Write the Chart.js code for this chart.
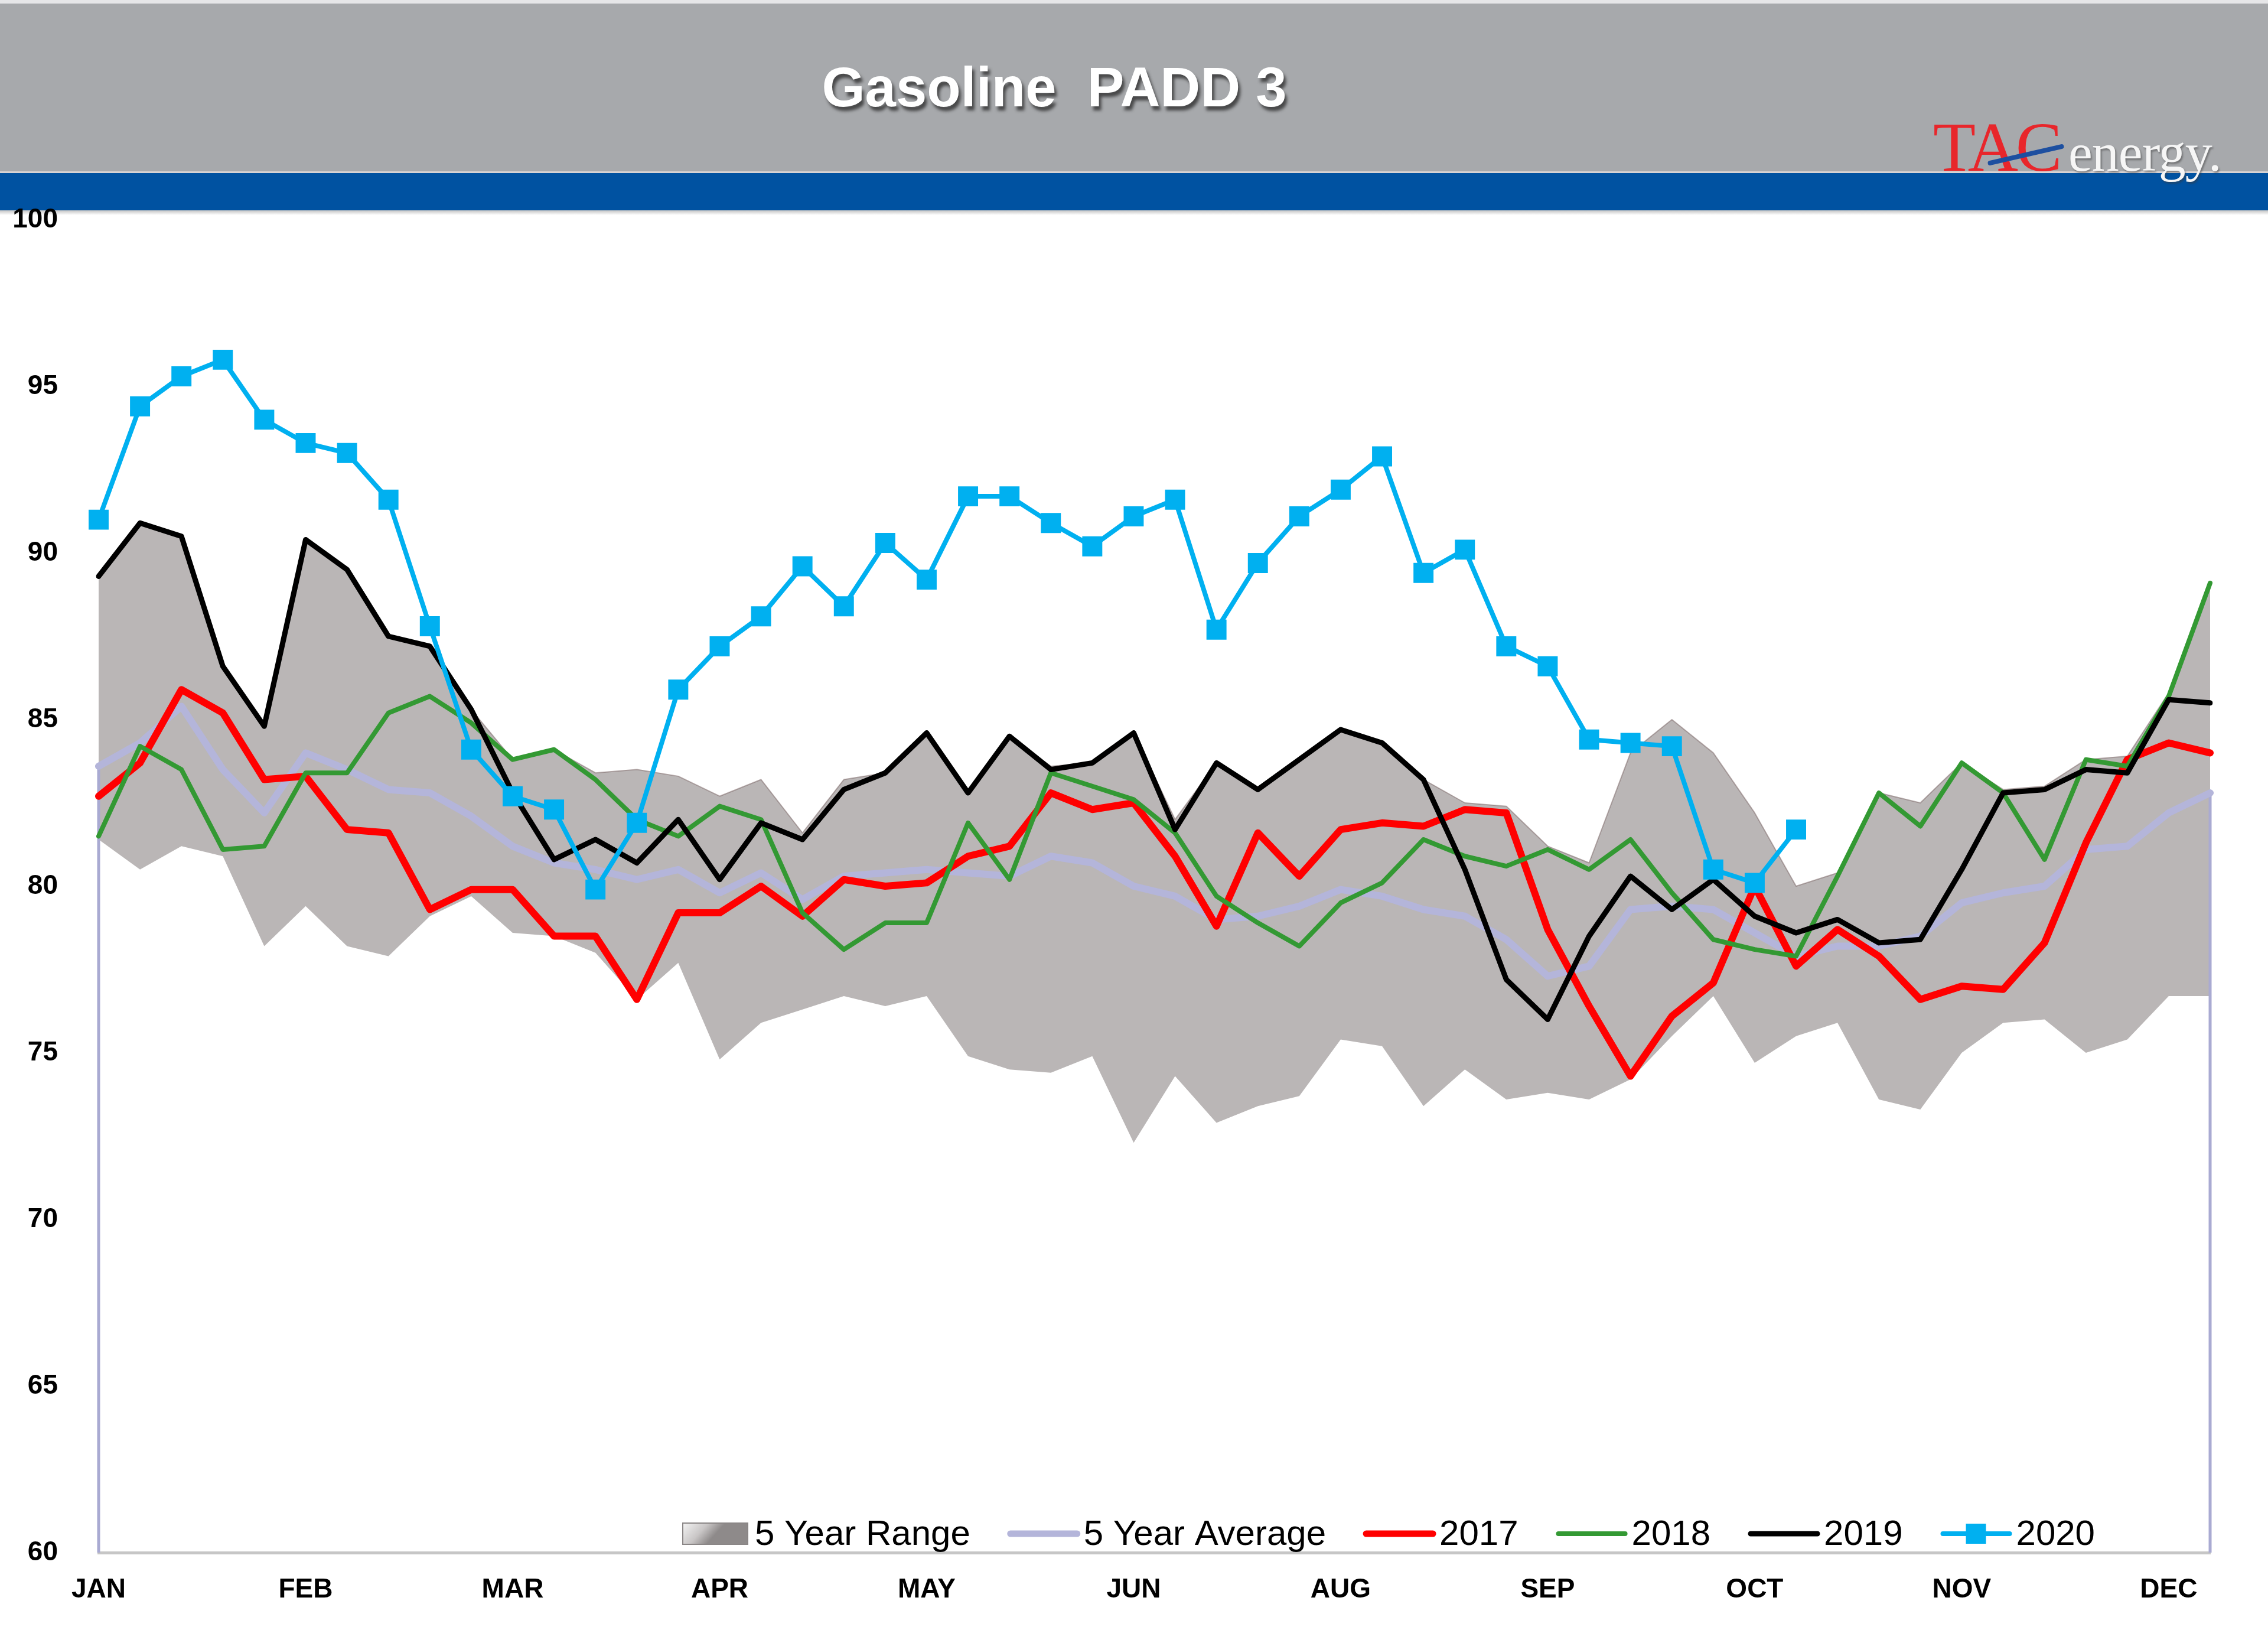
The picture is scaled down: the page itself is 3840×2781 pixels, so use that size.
<!DOCTYPE html>
<html>
<head>
<meta charset="utf-8">
<title>Gasoline PADD 3</title>
<script src="https://cdn.jsdelivr.net/npm/chart.js@4.4.0/dist/chart.umd.min.js"></script>
<style>
  html, body { margin: 0; padding: 0; background: #fff; }
  #wrap { position: relative; width: 3840px; height: 2781px; overflow: hidden; }
  .topline { position: absolute; left: 0; top: 0; width: 3840px; height: 6px; background: #e6e6e8; }
  .band { position: absolute; left: 0; top: 6px; width: 3840px; height: 284px; background: #a7a9ac; }
  .sep { position: absolute; left: 0; top: 290px; width: 3840px; height: 3px; background: #d9d4d4; }
  .bar { position: absolute; left: 0; top: 293px; width: 3840px; height: 63px; background: #0052a1; }
  .shade { position: absolute; left: 0; top: 356px; width: 3840px; height: 8px;
           background: linear-gradient(#c4c4c4, #ffffff); }
  .title { position: absolute; left: 1785px; top: 101px; transform: translateX(-50%);
           font: bold 94px/1 "Liberation Sans", Arial, sans-serif; color: #fff; white-space: pre;
           text-shadow: 4px 7px 5px rgba(40,40,40,0.75); }
  .tac { position: absolute; left: 3273px; top: 191px; font: 118px/1 "Liberation Serif", serif;
         color: #e8262b; letter-spacing: -4px; }
  .energy { position: absolute; left: 3502px; top: 212px; font: 92px/1 "Liberation Serif", serif;
            color: #f6f6f6; letter-spacing: -1px; text-shadow: 2px 3px 3px rgba(60,60,60,0.5); }
  .slash { position: absolute; left: 3364px; top: 258px; width: 132px; height: 8px; background: #1d4fa0;
           border-radius: 4px; transform: rotate(-13deg); }
  canvas { position: absolute; left: 0; top: 0; }
</style>
</head>
<body>
<div id="wrap">
  <div class="topline"></div>
  <div class="band"></div>
  <div class="sep"></div>
  <div class="bar"></div>
  <div class="shade"></div>
  <div class="title">Gasoline  PADD 3</div>
  <div class="tac">TAC</div>
  <div class="slash"></div>
  <div class="energy">energy.</div>
  <canvas id="chart" width="3840" height="2781"></canvas>
</div>
<script>
// weekly categories, month names shown every 5th week
const weeks = [1,2,3,4,5,6,7,8,9,10,11,12,13,14,15,16,17,18,19,20,21,22,23,24,25,26,
               27,28,29,30,31,32,33,34,35,36,37,38,39,40,41,42,43,44,45,46,47,48,49,50,51,52];
const monthTicks = ['JAN','FEB','MAR','APR','MAY','JUN','AUG','SEP','OCT','NOV','DEC'];
const yTicks = [60, 65, 70, 75, 80, 85, 90, 95, 100];

const rangeLow = [81.4,80.5,81.2,80.9,78.2,79.4,78.2,77.9,79.1,79.7, 78.6,78.5,78.0,76.6,77.7,74.8,75.9,76.3,76.7,76.4,
                  76.7,74.9,74.5,74.4,74.9,72.3,74.3,72.9,73.4,73.7, 75.4,75.2,73.4,74.5,73.6,73.8,73.6,74.2,75.5,76.7,
                  74.7,75.5,75.9,73.6,73.3,75.0,75.9,76.0,75.0,75.4, 76.7,76.7];
const rangeHigh = [89.3,90.9,90.5,86.6,84.8,90.4,89.5,87.5,87.2,85.3, 83.8,84.1,83.4,83.5,83.3,82.7,83.2,81.6,83.2,83.4,
                   84.6,82.8,84.5,83.6,83.7,84.6,82.0,83.7,82.9,83.8, 84.7,84.3,83.2,82.5,82.4,81.2,80.7,84.0,85.0,84.0,
                   82.2,80.0,80.4,82.8,82.5,83.7,82.9,83.0,83.8,83.9, 85.8,89.1];
const avg5 = [83.6,84.3,85.4,83.5,82.2,84.0,83.5,82.9,82.8,82.1, 81.2,80.7,80.5,80.2,80.5,79.8,80.4,79.6,80.3,80.4,
              80.5,80.4,80.3,80.9,80.7,80.0,79.7,79.0,79.1,79.4, 79.9,79.7,79.3,79.1,78.4,77.3,77.6,79.3,79.4,79.3,
              78.6,77.9,78.2,78.2,78.5,79.5,79.8,80.0,81.1,81.2, 82.2,82.8];
const y2017 = [82.7,83.7,85.9,85.2,83.2,83.3,81.7,81.6,79.3,79.9, 79.9,78.5,78.5,76.6,79.2,79.2,80.0,79.1,80.2,80.0,
               80.1,80.9,81.2,82.8,82.3,82.5,80.9,78.8,81.6,80.3, 81.7,81.9,81.8,82.3,82.2,78.7,76.4,74.3,76.1,77.1,
               80.0,77.6,78.7,77.9,76.6,77.0,76.9,78.3,81.3,83.8, 84.3,84.0];
const y2018 = [81.5,84.2,83.5,81.1,81.2,83.4,83.4,85.2,85.7,84.9, 83.8,84.1,83.2,82.0,81.5,82.4,82.0,79.2,78.1,78.9,
               78.9,81.9,80.2,83.4,83.0,82.6,81.6,79.7,78.9,78.2, 79.5,80.1,81.4,80.9,80.6,81.1,80.5,81.4,79.8,78.4,
               78.1,77.9,80.3,82.8,81.8,83.7,82.8,80.8,83.8,83.6, 85.7,89.1];
const y2019 = [89.3,90.9,90.5,86.6,84.8,90.4,89.5,87.5,87.2,85.3, 82.8,80.8,81.4,80.7,82.0,80.2,81.9,81.4,82.9,83.4,
               84.6,82.8,84.5,83.5,83.7,84.6,81.7,83.7,82.9,83.8, 84.7,84.3,83.2,80.5,77.2,76.0,78.5,80.3,79.3,80.2,
               79.1,78.6,79.0,78.3,78.4,80.5,82.8,82.9,83.5,83.4, 85.6,85.5];
const y2020 = [91.0,94.4,95.3,95.8,94.0,93.3,93.0,91.6,87.8,84.1, 82.7,82.3,79.9,81.9,85.9,87.2,88.1,89.6,88.4,90.3,
               89.2,91.7,91.7,90.9,90.2,91.1,91.6,87.7,89.7,91.1, 91.9,92.9,89.4,90.1,87.2,86.6,84.4,84.3,84.2,80.5,
               80.1,81.7];

Chart.defaults.font.family = '"Liberation Sans", Arial, sans-serif';

// lavender drop lines at both ends of the average series
const edgeLines = {
    id: 'edgeLines',
    beforeDatasetDraw(chart, args) {
        if (args.index !== 2) return;
        const ctx = chart.ctx, xs = chart.scales.x, ys = chart.scales.y;
        const bottom = chart.chartArea.bottom;
        ctx.save();
        ctx.strokeStyle = '#a9aad2';
        ctx.lineWidth = 5;
        [0, avg5.length - 1].forEach(function(i) {
            const x = xs.getPixelForValue(i);
            ctx.beginPath();
            ctx.moveTo(x, ys.getPixelForValue(avg5[i]));
            ctx.lineTo(x, bottom);
            ctx.stroke();
        });
        ctx.restore();
    }
};

// legend drawn inside the plot, along the bottom
const insideLegend = {
    id: 'insideLegend',
    afterDatasetsDraw(chart) {
        const ctx = chart.ctx, area = chart.chartArea;
        const y = area.bottom - 32;
        let x = area.left + 989;
        ctx.save();
        ctx.font = '60px "Liberation Sans", Arial, sans-serif';
        ctx.textBaseline = 'middle';
        ctx.fillStyle = '#000';
        chart.data.datasets.forEach(function(ds) {
            if (!ds.legendKind) return;
            if (ds.legendKind === 'box') {
                const g = ctx.createLinearGradient(x, y - 18, x + 40, y + 18);
                g.addColorStop(0, '#f4f4f4');
                g.addColorStop(0.6, '#c9c6c6');
                g.addColorStop(1, '#8e8a8a');
                ctx.fillStyle = g;
                ctx.fillRect(x, y - 18, 110, 36);
                ctx.strokeStyle = '#8a8686';
                ctx.lineWidth = 2;
                ctx.strokeRect(x, y - 18, 110, 36);
                x += 122;
            } else {
                ctx.strokeStyle = ds.borderColor;
                ctx.lineWidth = Math.min(ds.borderWidth, 11);
                ctx.lineCap = 'round';
                ctx.beginPath();
                ctx.moveTo(x + 6, y);
                ctx.lineTo(x + 119, y);
                ctx.stroke();
                if (ds.legendKind === 'marker') {
                    ctx.fillStyle = ds.borderColor;
                    ctx.fillRect(x + 45, y - 17, 34, 34);
                }
                x += 130;
            }
            ctx.fillStyle = '#000';
            ctx.fillText(ds.label, x, y + 2);
            x += ctx.measureText(ds.label).width + 62;
        });
        ctx.restore();
    }
};

const lineBase = {
    fill: false,
    pointRadius: 0,
    tension: 0,
    borderJoinStyle: 'round',
    borderCapStyle: 'round'
};

new Chart(document.getElementById('chart'), {
    type: 'line',
    data: {
        labels: weeks,
        datasets: [
            Object.assign({}, lineBase, { label: 'low', data: rangeLow, borderWidth: 0, order: 10 }),
            Object.assign({}, lineBase, { label: '5 Year Range', data: rangeHigh, fill: '-1', order: 10,
                backgroundColor: '#bab6b6', borderColor: 'rgba(125,105,105,0.55)', borderWidth: 2,
                legendKind: 'box' }),
            Object.assign({}, lineBase, { label: '5 Year Average', data: avg5, order: 9,
                borderColor: '#b4b5da', borderWidth: 12, legendKind: 'line' }),
            Object.assign({}, lineBase, { label: '2017', data: y2017, order: 4,
                borderColor: '#ff0000', borderWidth: 12, legendKind: 'line' }),
            Object.assign({}, lineBase, { label: '2018', data: y2018, order: 3,
                borderColor: '#339933', borderWidth: 8, legendKind: 'line' }),
            Object.assign({}, lineBase, { label: '2019', data: y2019, order: 2,
                borderColor: '#000000', borderWidth: 9, legendKind: 'line' }),
            Object.assign({}, lineBase, { label: '2020', data: y2020, order: 1,
                borderColor: '#00b0f0', borderWidth: 8, legendKind: 'marker',
                pointStyle: 'rect', pointRadius: 24, pointBorderWidth: 0,
                pointBackgroundColor: '#00b0f0' })
        ]
    },
    options: {
        responsive: false,
        animation: false,
        events: [],
        layout: { padding: { left: 0, top: 372, right: 98, bottom: 0 } },
        plugins: {
            legend: { display: false },
            tooltip: { enabled: false },
            title: { display: false }
        },
        scales: {
            x: {
                offset: false,
                grid: { display: false, drawTicks: false },
                border: { display: true, color: '#c6c6c6', width: 5 },
                afterFit: function(scale) { scale.height = 153; },
                ticks: {
                    autoSkip: false,
                    maxRotation: 0,
                    padding: 36,
                    color: '#000',
                    font: { size: 46, weight: 'bold' },
                    callback: function(value, index) {
                        return index % 5 === 0 ? (monthTicks[index / 5] || '') : '';
                    }
                }
            },
            y: {
                min: yTicks[0],
                max: yTicks[yTicks.length - 1],
                grid: { display: false, drawTicks: false },
                border: { display: false },
                afterFit: function(scale) { scale.width = 167; },
                afterBuildTicks: function(axis) {
                    axis.ticks = yTicks.map(function(v) { return { value: v }; });
                },
                ticks: {
                    padding: 69,
                    color: '#000',
                    font: { size: 46, weight: 'bold' }
                }
            }
        }
    },
    plugins: [edgeLines, insideLegend]
});
</script>
</body>
</html>
